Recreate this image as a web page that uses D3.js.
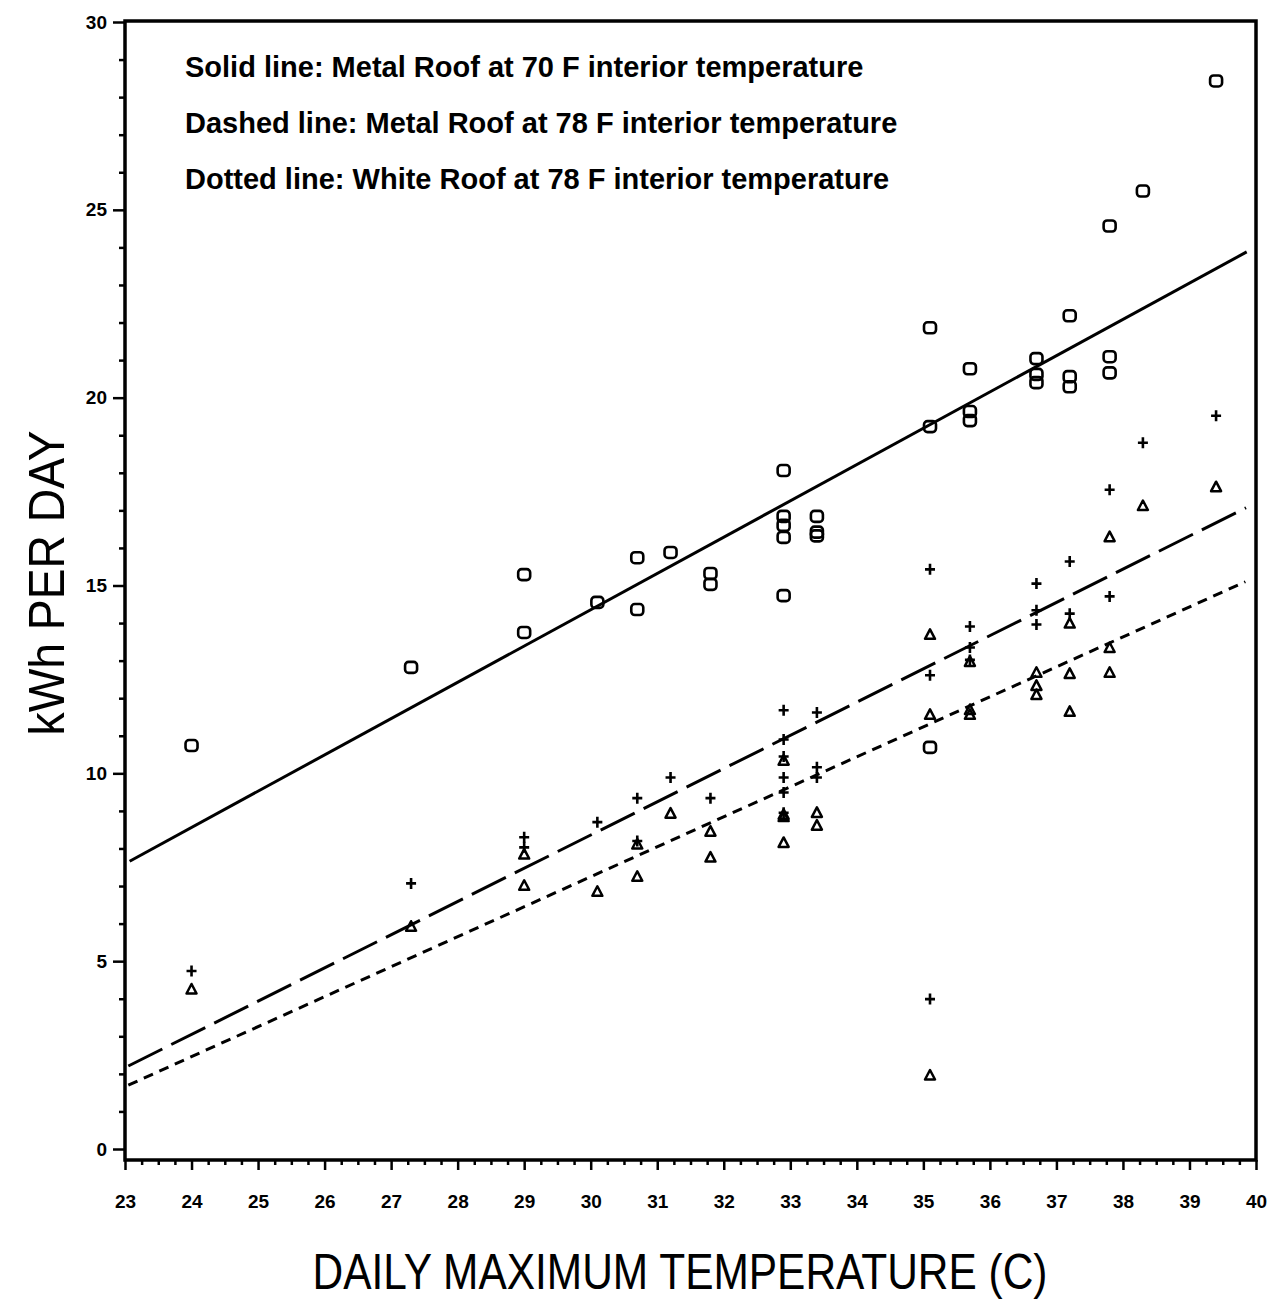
<!DOCTYPE html>
<html>
<head>
<meta charset="utf-8">
<script src="https://cdn.jsdelivr.net/npm/d3@7"></script>
<style>
  html, body { margin: 0; padding: 0; background: #fff; }
  svg { display: block; }
  text { font-family: "Liberation Sans", Arial, Helvetica, sans-serif; fill: #000; }
</style>
</head>
<body>
<svg id="chart" width="1269" height="1301"></svg>
<script>
// Daily kWh vs. daily maximum temperature for three roof / thermostat cases.
// Squares: metal roof @ 70 F, pluses: metal roof @ 78 F, triangles: white roof @ 78 F.

const xTicks = [23, 24, 25, 26, 27, 28, 29, 30, 31, 32, 33, 34, 35, 36, 37, 38, 39, 40];
const yTicks = [0, 5, 10, 15, 20, 25, 30];

// [daily max temp (C), kWh per day]
const metal70Points = [
  [24.0, 10.74], [27.3, 12.82], [29.0, 15.29], [29.0, 13.75], [30.1, 14.55],
  [30.7, 15.74], [30.7, 14.36], [31.2, 15.88], [31.8, 15.32], [31.8, 15.03],
  [32.9, 18.06], [32.9, 16.84], [32.9, 16.60], [32.9, 16.28], [32.9, 14.73],
  [33.4, 16.84], [33.4, 16.42], [33.4, 16.32],
  [35.1, 21.86], [35.1, 19.23], [35.1, 10.69],
  [35.7, 20.77], [35.7, 19.63], [35.7, 19.39],
  [36.7, 21.04], [36.7, 20.62], [36.7, 20.40],
  [37.2, 22.18], [37.2, 20.56], [37.2, 20.29],
  [37.8, 24.57], [37.8, 21.09], [37.8, 20.66],
  [38.3, 25.50], [39.4, 28.43]
];

const metal78Points = [
  [24.0, 4.74], [27.3, 7.07], [29.0, 8.30], [29.0, 8.03], [30.1, 8.70],
  [30.7, 9.34], [30.7, 8.20], [31.2, 9.89], [31.8, 9.34],
  [32.9, 11.68], [32.9, 10.90], [32.9, 10.45], [32.9, 9.89], [32.9, 9.49], [32.9, 8.95],
  [33.4, 11.62], [33.4, 10.16], [33.4, 9.89],
  [35.1, 15.43], [35.1, 12.61], [35.1, 3.99],
  [35.7, 13.91], [35.7, 13.35], [35.7, 13.02],
  [36.7, 15.05], [36.7, 14.34], [36.7, 13.96],
  [37.2, 15.64], [37.2, 14.25],
  [37.8, 17.55], [37.8, 14.71],
  [38.3, 18.80], [39.4, 19.52]
];

const white78Points = [
  [24.0, 4.26], [27.3, 5.93], [29.0, 7.85], [29.0, 7.02], [30.1, 6.86],
  [30.7, 8.12], [30.7, 7.26], [31.2, 8.94], [31.8, 8.46], [31.8, 7.77],
  [32.9, 10.35], [32.9, 8.91], [32.9, 8.85], [32.9, 8.16],
  [33.4, 8.96], [33.4, 8.62],
  [35.1, 13.70], [35.1, 11.57], [35.1, 1.97],
  [35.7, 12.98], [35.7, 11.70], [35.7, 11.57],
  [36.7, 12.69], [36.7, 12.34], [36.7, 12.10],
  [37.2, 14.00], [37.2, 12.66], [37.2, 11.65],
  [37.8, 16.30], [37.8, 13.35], [37.8, 12.69],
  [38.3, 17.13], [39.4, 17.63]
];

// fitted lines, end points as drawn
const metal70Fit = [[23.07, 7.66], [39.86, 23.88]];
const metal78Fit = [[23.05, 2.21], [39.85, 17.07]];
const white78Fit = [[23.05, 1.70], [39.84, 15.10]];

const legendLines = [
  "Solid line: Metal Roof at 70 F interior temperature",
  "Dashed line: Metal Roof at 78 F interior temperature",
  "Dotted line: White Roof at 78 F interior temperature"
];

const xTitle = "DAILY MAXIMUM TEMPERATURE (C)";
const yTitle = "kWh PER DAY";

const width = 1269, height = 1301;
const frame = { left: 125, right: 1256, top: 21, bottom: 1160 };

const svg = d3.select("#chart");
svg.append("rect").attr("width", width).attr("height", height).attr("fill", "#fff");

const x = d3.scaleLinear().domain([23, 40]).range([frame.left, frame.right]);
const y = d3.scaleLinear().domain([0, 30]).range([1149, 22]);

// ---- axes ----
const minorX = d3.range(23, 40.001, 0.25).filter((v) => Math.abs(v - Math.round(v)) > 1e-6);
const minorY = d3.range(0, 30.001, 1).filter((v) => v % 5 !== 0);

function styleAxis(g) {
  g.select(".domain").remove();
  g.selectAll(".tick line").attr("stroke", "#000").attr("stroke-width", 2.5);
  g.selectAll(".tick text")
    .attr("font-size", 19)
    .attr("font-weight", "bold")
    .attr("font-family", "'Liberation Sans', Arial, sans-serif");
}

svg.append("g")
  .attr("transform", `translate(0,${frame.bottom})`)
  .call(d3.axisBottom(x).tickValues(minorX).tickSize(5).tickFormat(""))
  .call(styleAxis);

svg.append("g")
  .attr("transform", `translate(0,${frame.bottom})`)
  .call(d3.axisBottom(x).tickValues(xTicks).tickSize(10).tickPadding(25).tickFormat(d3.format("d")))
  .call(styleAxis);

svg.append("g")
  .attr("transform", `translate(${frame.left},0)`)
  .call(d3.axisLeft(y).tickValues(minorY).tickSize(6).tickFormat(""))
  .call(styleAxis);

svg.append("g")
  .attr("transform", `translate(${frame.left},0)`)
  .call(d3.axisLeft(y).tickValues(yTicks).tickSize(12).tickPadding(6).tickFormat(d3.format("d")))
  .call(styleAxis);

// plot frame
svg.append("rect")
  .attr("x", frame.left)
  .attr("y", frame.top)
  .attr("width", frame.right - frame.left)
  .attr("height", frame.bottom - frame.top)
  .attr("fill", "none")
  .attr("stroke", "#000")
  .attr("stroke-width", 3.5);

// ---- fitted lines ----
const line = d3.line().x((d) => x(d[0])).y((d) => y(d[1]));

const fits = [
  { data: metal70Fit, dash: null },
  { data: metal78Fit, dash: "38,10" },
  { data: white78Fit, dash: "10,7" }
];

svg.append("g")
  .selectAll("path")
  .data(fits)
  .join("path")
  .attr("d", (d) => line(d.data))
  .attr("fill", "none")
  .attr("stroke", "#000")
  .attr("stroke-width", 3)
  .attr("stroke-dasharray", (d) => d.dash);

// ---- markers ----
const marks = svg.append("g").attr("fill", "none").attr("stroke", "#000");

marks.selectAll("rect.sq")
  .data(metal70Points)
  .join("rect")
  .attr("class", "sq")
  .attr("x", (d) => x(d[0]) - 6)
  .attr("y", (d) => y(d[1]) - 5.5)
  .attr("width", 12)
  .attr("height", 11)
  .attr("rx", 3.5)
  .attr("stroke-width", 2.6);

marks.selectAll("path.tri")
  .data(white78Points)
  .join("path")
  .attr("class", "tri")
  .attr("transform", (d) => `translate(${x(d[0])},${y(d[1])})`)
  .attr("d", "M0,-5L5,4.5H-5Z")
  .attr("stroke-width", 2.5)
  .attr("stroke-linejoin", "round");

marks.selectAll("path.plus")
  .data(metal78Points)
  .join("path")
  .attr("class", "plus")
  .attr("transform", (d) => `translate(${x(d[0])},${y(d[1])})`)
  .attr("d", "M-5,0H5M0,-5.5V5.5")
  .attr("stroke-width", 2.6);

// ---- legend text ----
svg.append("g")
  .selectAll("text")
  .data(legendLines)
  .join("text")
  .attr("x", 185)
  .attr("y", (d, i) => 77 + i * 56)
  .attr("font-size", 29)
  .attr("font-weight", "bold")
  .text((d) => d);

// ---- axis titles ----
svg.append("text")
  .attr("x", 680)
  .attr("y", 1289)
  .attr("text-anchor", "middle")
  .attr("font-size", 50)
  .attr("textLength", 735)
  .attr("lengthAdjust", "spacingAndGlyphs")
  .text(xTitle);

svg.append("text")
  .attr("transform", "translate(64,583) rotate(-90)")
  .attr("text-anchor", "middle")
  .attr("font-size", 50)
  .attr("textLength", 305)
  .attr("lengthAdjust", "spacingAndGlyphs")
  .text(yTitle);
</script>
</body>
</html>
